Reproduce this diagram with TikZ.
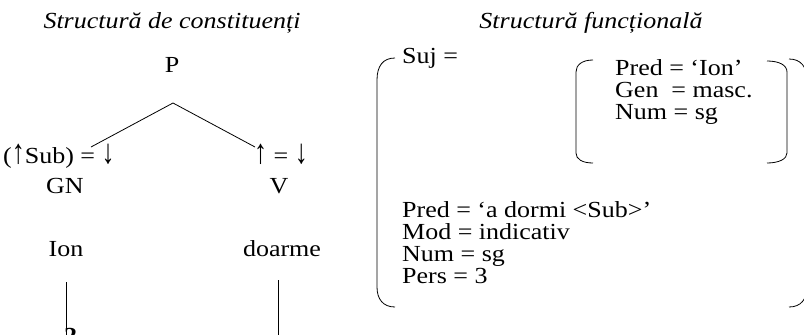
\documentclass[tikz,border=0pt]{standalone}
\usepackage{graphicx}
\usepackage{fontspec}
\setmainfont{Liberation Serif}[FakeStretch=1.13]
\newcommand{\uarr}{\scalebox{1}[1.5]{↑}}
\newcommand{\darr}{\scalebox{1}[1.5]{↓}}
\begin{document}
\begin{tikzpicture}[x=1pt,y=-1pt,
  txt/.style={inner sep=0pt,font=\fontsize{23}{22}\selectfont},
  ttl/.style={inner sep=0pt,font=\fontsize{23}{22}\selectfont\itshape},
  brk/.style={line width=0.8pt}]
\useasboundingbox (0,0) rectangle (804,335);
\clip (0,0) rectangle (804,335);
% titles
\node[ttl,anchor=base] (t1) at (172,28) {Structură de constituenți};
\node[ttl,anchor=base] (t2) at (591,28) {Structură funcțională};
% tree
\node[txt,anchor=base] (P) at (172,72) {P};
\coordinate (apex) at (173,103);
\coordinate (lft) at (91,147);
\coordinate (rgt) at (255,147);
\draw[brk] (lft) -- (apex) -- (rgt);
\node[txt,anchor=base west] (ann1) at (3,163) {(\uarr Sub) = \darr};
\node[txt,anchor=base] (ann2) at (281,163) {\uarr\ = \darr};
\node[txt,anchor=base] (GN) at (65,193) {GN};
\node[txt,anchor=base] (V) at (279,193) {V};
\node[txt,anchor=base] (Ion) at (66,256) {Ion};
\node[txt,anchor=base] (doarme) at (282,256) {doarme};
\coordinate (l1a) at (66,282); \coordinate (l1b) at (66,340);
\coordinate (l2a) at (278,280); \coordinate (l2b) at (278,340);
\draw[brk] (l1a) -- (l1b);
\draw[brk] (l2a) -- (l2b);
\node[txt,anchor=north west,font=\fontsize{23}{22}\selectfont\bfseries] (two) at (64,328) {2};
% functional structure
\node[txt,anchor=base west] (suj) at (402,63) {Suj =};
\node[txt,anchor=base west] (i1) at (615,75) {Pred = ‘Ion’};
\node[txt,anchor=base west] (i2) at (615,97) {Gen~ = masc.};
\node[txt,anchor=base west] (i3) at (615,119) {Num = sg};
\node[txt,anchor=base west] (o1) at (402,217) {Pred = ‘a dormi <Sub>’};
\node[txt,anchor=base west] (o2) at (402,239) {Mod = indicativ};
\node[txt,anchor=base west] (o3) at (402,261) {Num = sg};
\node[txt,anchor=base west] (o4) at (402,283) {Pers = 3};
% big bracket
\draw[brk] (395,58) .. controls (383,58) and (377,66) .. (377,80) -- (377,287) .. controls (377,299) and (383,307) .. (395,307);
\draw[brk] (789,59) .. controls (801,59) and (807,67) .. (807,80) -- (807,287) .. controls (807,299) and (801,307) .. (789,307);
% inner bracket
\draw[brk] (593,60) .. controls (582,60) and (576,65) .. (576,72) -- (576,153) .. controls (576,159) and (582,163) .. (593,163);
\draw[brk] (767,61) .. controls (779,61) and (787,65) .. (787,72) -- (787,153) .. controls (787,159) and (779,163) .. (767,163);
\end{tikzpicture}
\end{document}
